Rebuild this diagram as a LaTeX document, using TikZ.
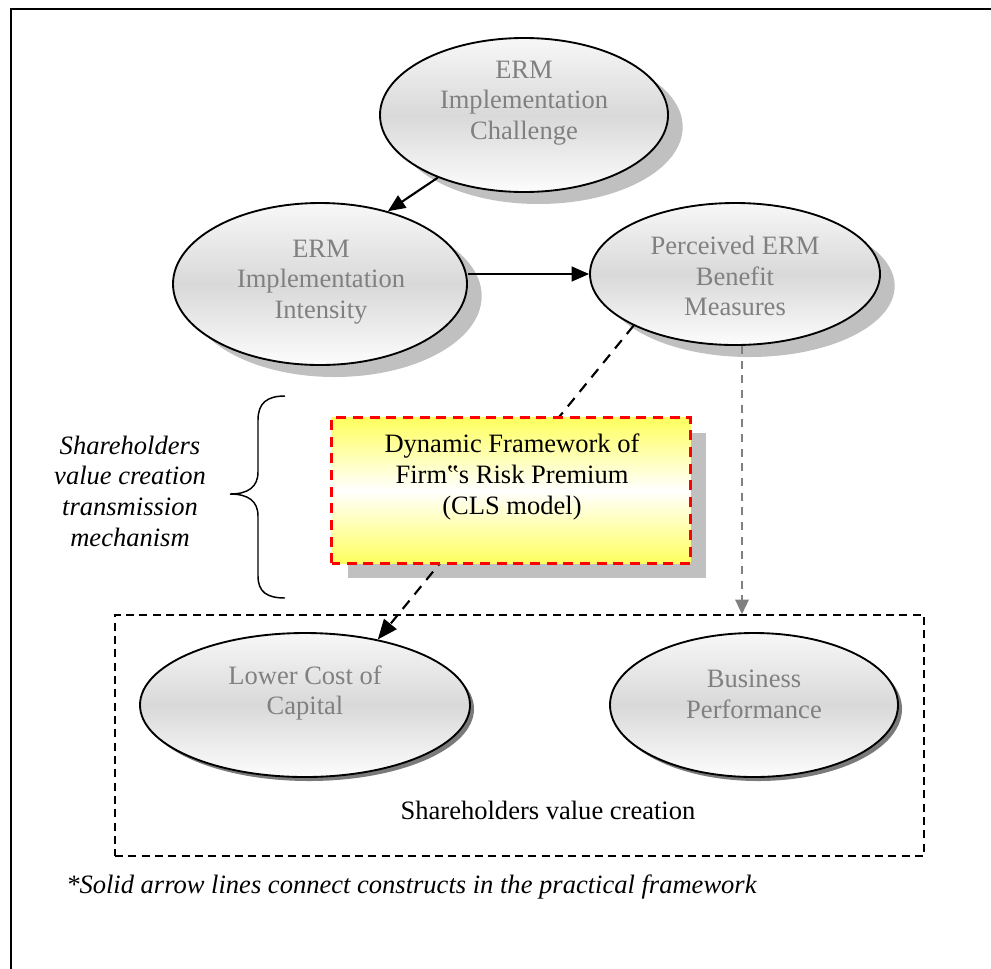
\documentclass[tikz,border=0pt]{standalone}
\usepackage{fontspec}
\setmainfont{Liberation Serif}
\usetikzlibrary{arrows.meta,shadows,shapes.geometric}
\definecolor{txtgray}{HTML}{808080}
\definecolor{shadelight}{HTML}{C0C0C0}
\definecolor{shadedark}{HTML}{7A7A7A}
\definecolor{boxyellow}{HTML}{FFFF5E}
\definecolor{arrowgray}{HTML}{808080}

\begin{document}
\begin{tikzpicture}[x=0.75pt,y=-0.75pt,
  every node/.style={font=\fontsize{19.9pt}{23pt}\selectfont},
  construct/.style={ellipse, draw=black, line width=1.4pt, inner sep=0pt,
    top color=black!3, bottom color=black!1, middle color=black!15},
  bigshadow/.style={general shadow={fill=shadelight, shadow xshift=11pt, shadow yshift=-9pt}},
  smallshadow/.style={general shadow={fill=shadedark, shadow xshift=3pt, shadow yshift=-3pt}},
  ctext/.style={text=txtgray, align=center, inner sep=0pt},
  plaintext/.style={text=black, align=center, inner sep=0pt},
  solidarrow/.style={draw=black, line width=1.6pt, -{Triangle[length=13pt,width=11pt]}},
  dasharrow/.style={draw=black, line width=1.6pt, dash pattern=on 8pt off 6pt,
    -{Triangle[length=15pt,width=12pt]}},
  grayarrow/.style={draw=arrowgray, line width=1.6pt, dash pattern=on 6pt off 5pt,
    -{Triangle[length=11pt,width=10pt]}},
  groupbox/.style={draw=black, line width=1.1pt, dash pattern=on 6pt off 4pt, inner sep=0pt},
  fwface/.style={draw=red, line width=2pt, dash pattern=on 7.5pt off 5pt,
    top color=boxyellow, bottom color=boxyellow, middle color=white},
  bracestyle/.style={draw=black, line width=1.1pt}
]
\useasboundingbox (0,0) rectangle (991,968);

% outer frame
\draw[line width=1.6pt] (11,1000) -- (11,9) -- (1000,9);

% shareholders value creation group
\node[groupbox, minimum width=606.75pt, minimum height=180.75pt] (vc) at (519.5,735.5) {};
\node[plaintext] (vctext) at (548,810) {Shareholders value creation};

% constructs
\node[construct, bigshadow, minimum width=216pt, minimum height=115.5pt] (chal) at (524,115) {};
\node[construct, bigshadow, minimum width=220.5pt, minimum height=121.5pt] (inten) at (320,284) {};
\node[construct, bigshadow, minimum width=217.5pt, minimum height=106.5pt] (perc) at (735,274) {};
\node[construct, smallshadow, minimum width=247.5pt, minimum height=108pt] (lcc) at (305,705) {};
\node[construct, smallshadow, minimum width=216pt, minimum height=108pt] (bp) at (754,705) {};

\node[ctext] (chaltext) at (524,103) {ERM\\Implementation\\Challenge};
\node[ctext] (intentext) at (321,282) {ERM\\Implementation\\Intensity};
\node[ctext] (perctext) at (735,276) {Perceived ERM\\Benefit\\Measures};
\node[ctext] (lcctext) at (305,693) {Lower Cost of\\Capital};
\node[ctext] (bptext) at (754,694) {Business\\Performance};

% practical framework links
\draw[solidarrow] (chal.216.6) -- (inten.47.5);
\draw[solidarrow] (inten.east |- perc.west) -- (perc.west);

% CLS model box: shadow, link running behind it, then the box itself
\path node[minimum width=268.5pt, minimum height=108.75pt, inner sep=0pt] (fw) at (511,490.5) {};
\fill[shadelight] ([xshift=12pt,yshift=-11.25pt]fw.south west) rectangle ([xshift=12pt,yshift=-11.25pt]fw.north east);
\draw[dasharrow] (perc.207) -- (lcc.42);
\path[fwface] (fw.south west) rectangle (fw.north east);
\node[plaintext] (fwtext) at (512,477) {Dynamic Framework of\\Firm‟s Risk Premium\\(CLS model)};

% link to business performance
\coordinate (gstart) at ([xshift=5.25pt]perc.south);
\draw[grayarrow] (gstart) -- (gstart |- vc.north);

% transmission mechanism brace and caption
\draw[bracestyle] (285,396) .. controls (267,396) and (258,403) .. (258,420) -- (258,472)
  .. controls (258,487) and (248,494) .. (230,494)
  .. controls (248,494) and (258,501) .. (258,516) -- (258,576)
  .. controls (258,592) and (267,598) .. (285,598);
\node[plaintext, font=\fontsize{19.9pt}{23pt}\selectfont\itshape] (mech) at (130,491)
  {Shareholders\\value creation\\transmission\\mechanism};

% footnote
\node[plaintext, anchor=west, font=\fontsize{19.9pt}{23pt}\selectfont\itshape] (note) at (66,887)
  {*Solid arrow lines connect constructs in the practical framework};
\end{tikzpicture}
\end{document}
